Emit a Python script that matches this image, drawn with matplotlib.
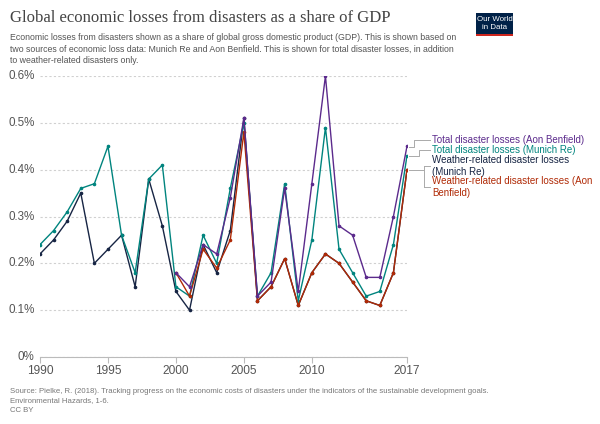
import matplotlib.pyplot as plt
from matplotlib.patches import Rectangle

plt.rcParams['font.family'] = ['Liberation Sans', 'DejaVu Sans']

years = list(range(1990, 2018))

# share of global GDP, in percent
munich_total = [0.24, 0.27, 0.31, 0.36, 0.37, 0.45, 0.26, 0.18, 0.38, 0.41,
                0.15, 0.13, 0.26, 0.20, 0.36, 0.50, 0.13, 0.18, 0.37, 0.12,
                0.25, 0.49, 0.23, 0.18, 0.13, 0.14, 0.24, 0.43]
munich_weather = [0.22, 0.25, 0.29, 0.35, 0.20, 0.23, 0.26, 0.15, 0.38, 0.28,
                  0.14, 0.10, 0.24, 0.18, 0.27, 0.51, 0.12, 0.15, 0.21, 0.11,
                  0.18, 0.22, 0.20, 0.16, 0.12, 0.11, 0.18, 0.40]
aon_years = list(range(2000, 2018))
aon_total = [0.18, 0.15, 0.24, 0.22, 0.34, 0.51, 0.13, 0.16, 0.36, 0.14,
             0.37, 0.60, 0.28, 0.26, 0.17, 0.17, 0.30, 0.45]
aon_weather = [0.18, 0.13, 0.23, 0.19, 0.25, 0.48, 0.12, 0.15, 0.21, 0.11,
               0.18, 0.22, 0.20, 0.16, 0.12, 0.11, 0.18, 0.40]

yticks = [0, 0.1, 0.2, 0.3, 0.4, 0.5, 0.6]
xticks = [1990, 1995, 2000, 2005, 2010, 2017]

purple = '#5B2A8C'
teal = '#00847E'
navy = '#172544'
red = '#B02A06'

fig = plt.figure(figsize=(6, 4.24), dpi=100)
W, H = 600, 424
ax = fig.add_axes([40 / W, (H - 357) / H, 367 / W, 281 / H])

style = dict(lw=1.0, marker='o', ms=1.6)
ax.plot(years, munich_weather, color=navy, zorder=3, **style)
ax.plot(years, munich_total, color=teal, zorder=4, **style)
ax.plot(aon_years, aon_weather, color=red, zorder=5, **style)
ax.plot(aon_years, aon_total, color=purple, zorder=6, **style)

ax.set_xlim(1990, 2017)
ax.set_ylim(0, 0.6)
ax.set_yticks(yticks)
ax.set_yticklabels(['0%'] + ['%.1f%%' % v for v in yticks[1:]])
ax.set_xticks(xticks)
ax.set_xticklabels([str(x) for x in xticks])
ax.tick_params(axis='y', length=0, pad=4, labelsize=8.4, labelcolor='#555555')
ax.tick_params(axis='x', length=4, color='#bbbbbb', pad=2, labelsize=8.6,
               labelcolor='#555555')
for t in ax.get_yticklabels():
    t.set_va('center')
for s in ['top', 'right', 'left']:
    ax.spines[s].set_visible(False)
ax.spines['bottom'].set_color('#bbbbbb')
ax.spines['bottom'].set_linewidth(0.8)
ax.grid(axis='y', color='#d0d0d0', lw=0.8, linestyle=(0, (2, 2)))
ax.set_axisbelow(True)

# labels at the right end
def px(x, y):
    return x / W, 1 - y / H

lab = dict(fontsize=7.0, va='center', ha='left')
fig.text(*px(432, 139.5), 'Total disaster losses (Aon Benfield)', color=purple, **lab)
fig.text(*px(432, 150.3), 'Total disaster losses (Munich Re)', color=teal, **lab)
fig.text(*px(432, 166), 'Weather-related disaster losses\n(Munich Re)', color=navy,
         linespacing=1.2, **lab)
fig.text(*px(432, 187), 'Weather-related disaster losses (Aon\nBenfield)', color=red,
         linespacing=1.2, **lab)

conn = dict(color='#aaaaaa', lw=0.7, transform=fig.transFigure, clip_on=False)
def seg(xs, ys):
    fig.lines.append(plt.Line2D([x / W for x in xs], [1 - y / H for y in ys], **conn))
seg([409, 414, 414, 430], [146.7, 146.7, 139.5, 139.5])
seg([409, 419, 419, 430], [156, 156, 150.3, 150.3])
seg([409, 424], [170, 170])
seg([424, 424], [166, 187])
seg([424, 430], [166, 166])
seg([424, 430], [187, 187])

# title and subtitle
fig.text(10 / W, 1 - 18 / H, 'Global economic losses from disasters as a share of GDP',
         family='Liberation Serif', fontsize=12.0, color='#444444', va='center')
fig.text(10 / W, 1 - 49 / H,
         'Economic losses from disasters shown as a share of global gross domestic product (GDP). '
         'This is shown based on\ntwo sources of economic loss data: Munich Re and Aon Benfield. '
         'This is shown for total disaster losses, in addition\nto weather-related disasters only.',
         fontsize=6.3, color='#555555', va='center', linespacing=1.4)

# logo
fig.patches.append(Rectangle((476 / W, 1 - 34 / H), 37 / W, 21 / H, transform=fig.transFigure,
                             facecolor='#002147', edgecolor='none'))
fig.patches.append(Rectangle((476 / W, 1 - 35.5 / H), 37 / W, 1.8 / H, transform=fig.transFigure,
                             facecolor='#ce261e', edgecolor='none'))
fig.text(494.5 / W, 1 - 23.5 / H, 'Our World\nin Data', color='white', fontsize=5.7,
         ha='center', va='center', linespacing=1.05)

# source
fig.text(10 / W, 1 - 401 / H,
         'Source: Pielke, R. (2018). Tracking progress on the economic costs of disasters under '
         'the indicators of the sustainable development goals.\nEnvironmental Hazards, 1-6.\nCC BY',
         fontsize=5.6, color='#777777', va='center', linespacing=1.45)

fig.savefig('out.png', dpi=100)
